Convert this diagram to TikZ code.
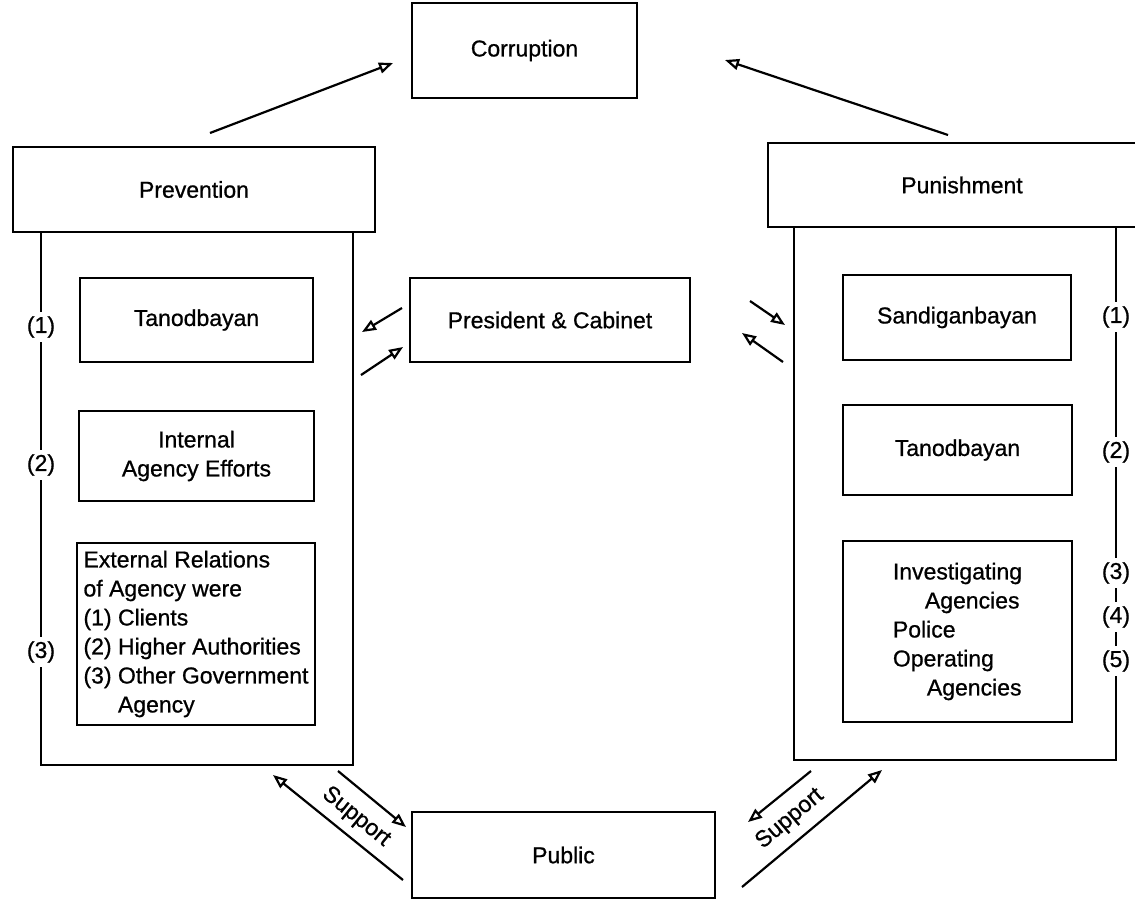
\documentclass[tikz,border=0pt]{standalone}
\usepackage{fontspec}
\setmainfont{Liberation Sans}[FakeBold=0.8]
\usetikzlibrary{arrows.meta}

\begin{document}
\begin{tikzpicture}[x=0.5pt,y=-0.5pt,
  font=\fontsize{11.5}{14.5}\selectfont,
  box/.style={draw,line width=1.2pt,fill=white,inner sep=0pt,align=center},
  listbox/.style={box,align=left},
  numlbl/.style={fill=white,inner sep=2pt},
  flow/.style={line width=1.1pt,-{Triangle[open,length=7pt,width=5.5pt]}}]
\useasboundingbox (0,0) rectangle (1135,901);
% top and middle
\node[box,minimum width=112.5pt,minimum height=47.5pt] (corr) at (524.5,50.5) {Corruption};
\node[box,minimum width=140pt,minimum height=42pt] (pres) at (550,320) {President \& Cabinet};
\node[box,minimum width=151.5pt,minimum height=43pt] (pub) at (563.5,855) {Public};
% prevention column
\node[box,minimum width=156pt,minimum height=266.5pt] (prevcol) at (197,498.5) {};
\node[box,minimum width=181pt,minimum height=42.5pt] (prevhead) at (194,189.5) {Prevention};
\node[box,minimum width=116.5pt,minimum height=42pt] (ptan) at (196.5,320) {Tanodbayan};
\node[box,minimum width=117.5pt,minimum height=45pt] (pint) at (196.5,456) {Internal\\Agency Efforts};
\node[listbox,minimum width=119pt,minimum height=91pt] (pext) at (196,634)
  {External Relations\\of Agency were\\(1) Clients\\(2) Higher Authorities\\(3) Other Government\\\phantom{(3) }Agency};
\node[numlbl] (pn1) at (41,327) {(1)};
\node[numlbl] (pn2) at (41,465) {(2)};
\node[numlbl] (pn3) at (41,652) {(3)};
% punishment column
\node[box,minimum width=161pt,minimum height=266.5pt] (puncol) at (955,493.5) {};
\node[box,minimum width=194pt,minimum height=42pt] (punhead) at (962,185) {Punishment};
\node[box,minimum width=114pt,minimum height=42.5pt] (sand) at (957,317.5) {Sandiganbayan};
\node[box,minimum width=114.5pt,minimum height=45pt] (ntan) at (957.5,450) {Tanodbayan};
\node[listbox,minimum width=114.5pt,minimum height=90.5pt] (inv) at (957.5,631.5)
  {Investigating\\\hspace*{16pt}Agencies\\Police\\Operating\\\hspace*{17pt}Agencies};
\node[numlbl] (rn1) at (1116,317) {(1)};
\node[numlbl] (rn2) at (1116,452) {(2)};
\node[numlbl] (rn3) at (1116,573) {(3)};
\node[numlbl] (rn4) at (1116,617) {(4)};
\node[numlbl] (rn5) at (1116,661) {(5)};
% arrow ends
\coordinate (prevup) at (210,133);   \coordinate (corrl) at (393,63);
\coordinate (punup) at (948,135);    \coordinate (corrr) at (725,60);
\coordinate (presl) at (402,308);    \coordinate (ptanr) at (362,332);
\coordinate (prevr) at (361,375);    \coordinate (presl2) at (403,347);
\coordinate (presr) at (750,301);    \coordinate (sandl) at (785,325);
\coordinate (punl) at (783,362);     \coordinate (presr2) at (742,333);
\coordinate (publ) at (403,880);     \coordinate (prevdn) at (273,775);
\coordinate (prevdn2) at (338,771);  \coordinate (publ2) at (406,827);
\coordinate (pundn) at (811,771);    \coordinate (pubr) at (748,822);
\coordinate (pubr2) at (742,887);    \coordinate (pundn2) at (882,770);
\draw[flow] (prevup) -- (corrl);
\draw[flow] (punup) -- (corrr);
\draw[flow] (presl) -- (ptanr);
\draw[flow] (prevr) -- (presl2);
\draw[flow] (presr) -- (sandl);
\draw[flow] (punl) -- (presr2);
\draw[flow] (publ) -- (prevdn);
\draw[flow] (prevdn2) -- (publ2);
\draw[flow] (pundn) -- (pubr);
\draw[flow] (pubr2) -- (pundn2);
\node[rotate=-39] (supl) at (356,817) {Support};
\node[rotate=40] (supr) at (790,819) {Support};
\end{tikzpicture}
\end{document}
